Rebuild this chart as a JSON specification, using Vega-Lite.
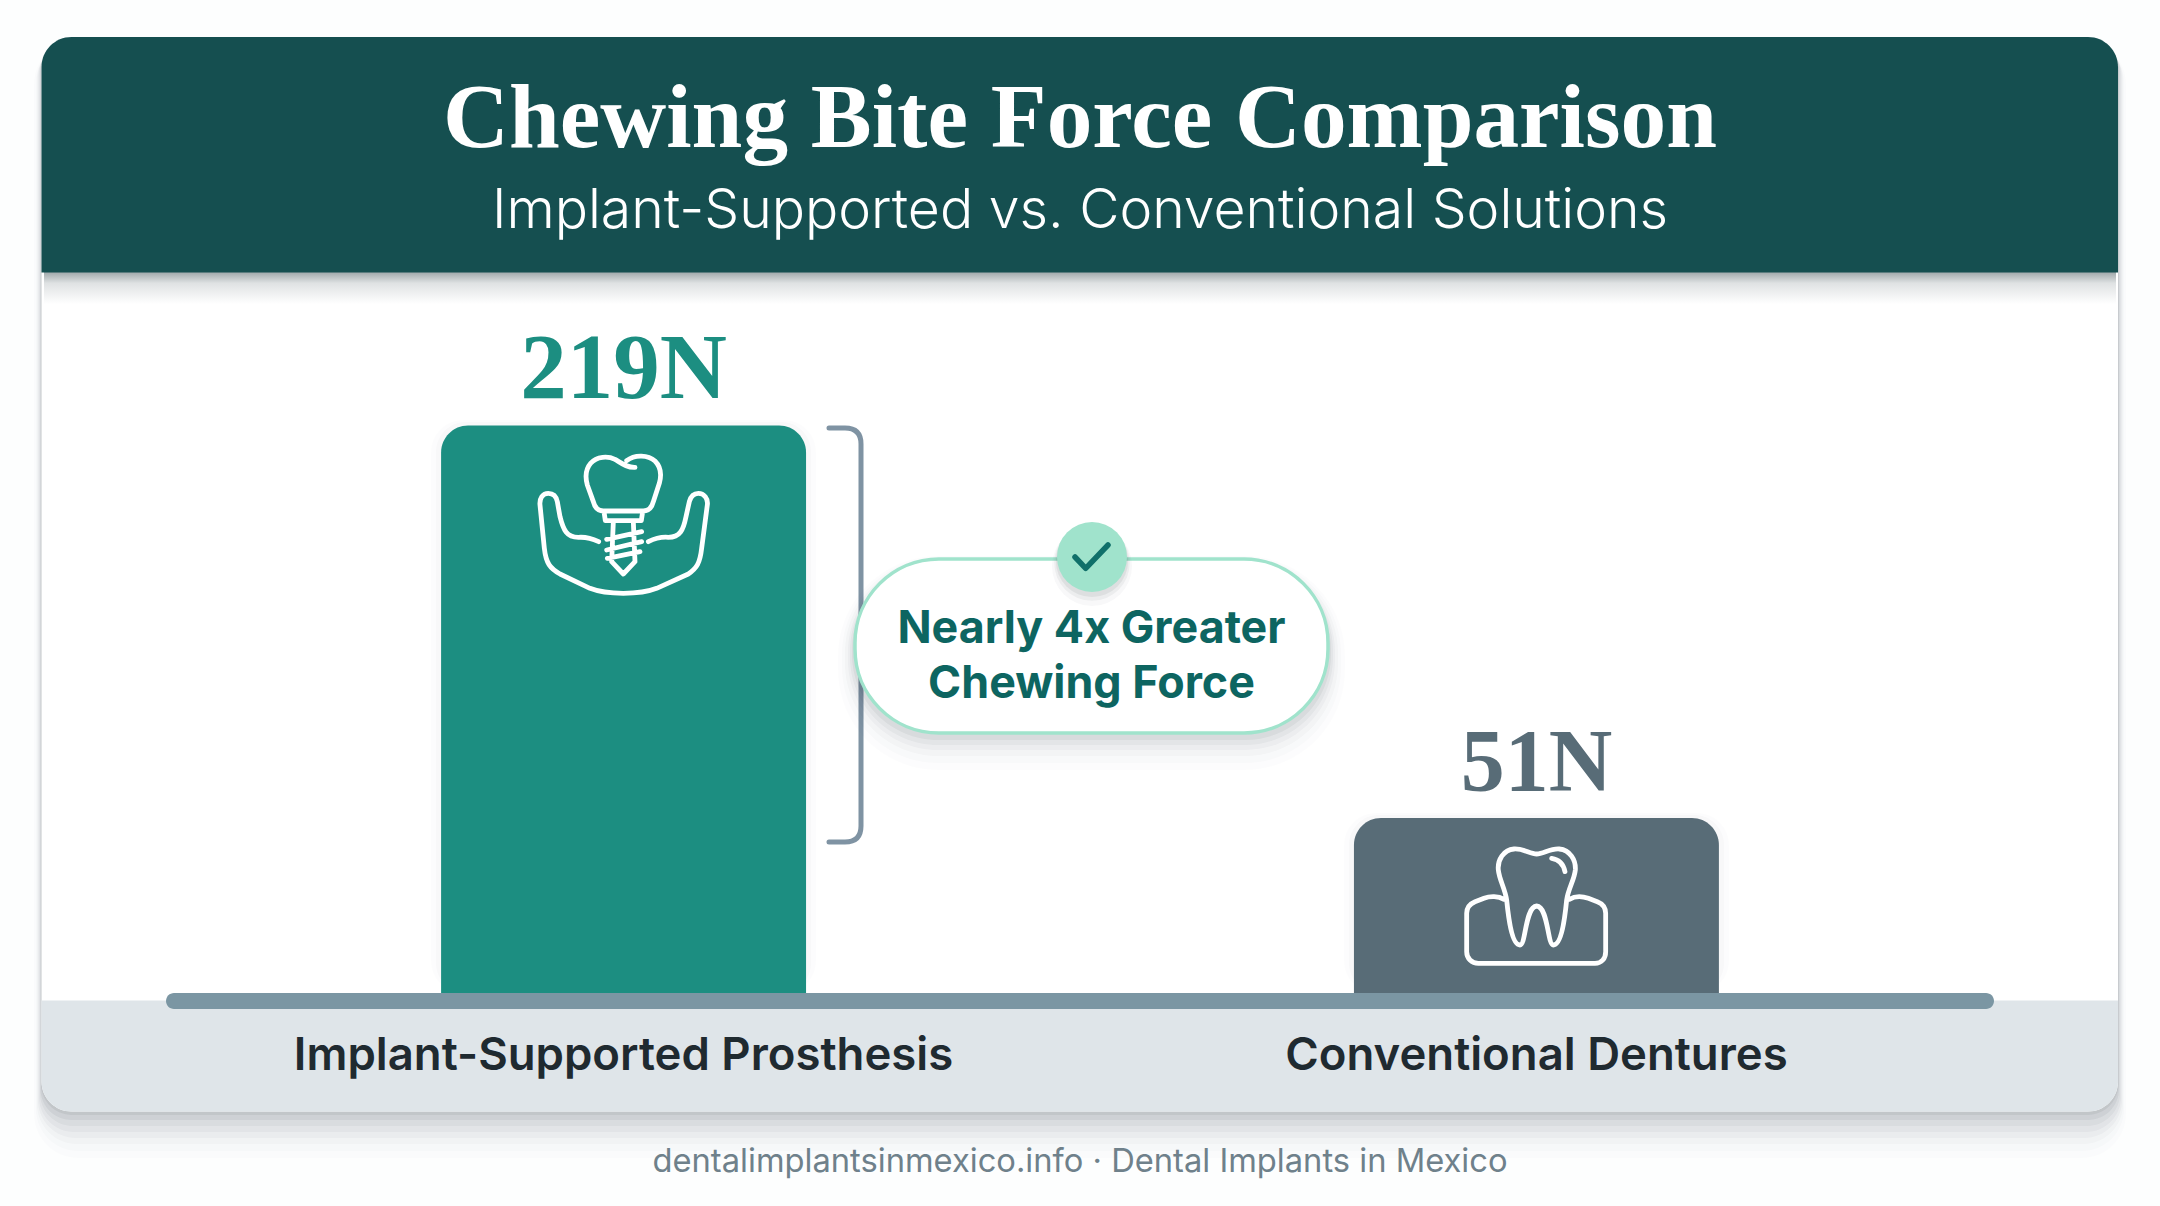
{
"$schema":"https://vega.github.io/schema/vega-lite/v6.json",
"width":2160,"height":1206,
"autosize":{"type":"fit","contains":"padding"},
"padding":0,
"background":"#fdfefe",
"config":{"view":{"stroke":null}},
"data":{"values":[
{"category":"Implant-Supported Prosthesis","force":219,"label":"219N"},
{"category":"Conventional Dentures","force":51,"label":"51N"}
]},
"resolve":{"scale":{"x":"independent","y":"independent","color":"independent"}},
"layer":[
{"data":{"values":[{}]},
"layer":[
{"mark":{"type":"rect","fill":"#1a2a30","opacity":0.012,"cornerRadius":44},"encoding":{"x":{"datum":34,"type":"quantitative","axis":null,"scale":{"domain":[0,2160],"nice":false,"zero":false}},"x2":{"datum":2126},"y":{"datum":40,"type":"quantitative","axis":null,"scale":{"domain":[1206,0],"nice":false,"zero":false}},"y2":{"datum":1158}}},
{"mark":{"type":"rect","fill":"#1a2a30","opacity":0.016,"cornerRadius":42},"encoding":{"x":{"datum":36},"x2":{"datum":2124},"y":{"datum":40},"y2":{"datum":1151}}},
{"mark":{"type":"rect","fill":"#1a2a30","opacity":0.022,"cornerRadius":40},"encoding":{"x":{"datum":37},"x2":{"datum":2123},"y":{"datum":40},"y2":{"datum":1144}}},
{"mark":{"type":"rect","fill":"#1a2a30","opacity":0.03,"cornerRadius":38},"encoding":{"x":{"datum":38},"x2":{"datum":2122},"y":{"datum":40},"y2":{"datum":1138}}},
{"mark":{"type":"rect","fill":"#1a2a30","opacity":0.035,"cornerRadius":35},"encoding":{"x":{"datum":39},"x2":{"datum":2121},"y":{"datum":40},"y2":{"datum":1132}}},
{"mark":{"type":"rect","fill":"#1a2a30","opacity":0.045,"cornerRadius":33},"encoding":{"x":{"datum":40},"x2":{"datum":2120},"y":{"datum":40},"y2":{"datum":1126}}},
{"mark":{"type":"rect","fill":"#1a2a30","opacity":0.055,"cornerRadius":31},"encoding":{"x":{"datum":40.5},"x2":{"datum":2119},"y":{"datum":40},"y2":{"datum":1120}}},
{"mark":{"type":"rect","fill":"#1a2a30","opacity":0.065,"cornerRadius":31},"encoding":{"x":{"datum":41},"x2":{"datum":2118.5},"y":{"datum":40},"y2":{"datum":1115}}},
{"mark":{"type":"rect","fill":"#ffffff","cornerRadius":30},"encoding":{"x":{"datum":41.5},"x2":{"datum":2118},"y":{"datum":37},"y2":{"datum":1111.5}}},
{"mark":{"type":"rect","fill":"#dfe5e9","cornerRadiusBottomLeft":30,"cornerRadiusBottomRight":30},"encoding":{"x":{"datum":41.5},"x2":{"datum":2118},"y":{"datum":1000.5},"y2":{"datum":1111.5}}},
{"mark":{"type":"rect","fill":{"gradient":"linear","x1":0,"y1":0,"x2":0,"y2":1,"stops":[{"offset":0,"color":"#9fa8aa"},{"offset":0.35,"color":"#dfe2e3"},{"offset":1,"color":"#ffffff"}]}},"encoding":{"x":{"datum":44},"x2":{"datum":2116},"y":{"datum":272},"y2":{"datum":304}}},
{"mark":{"type":"rect","fill":"#154f50","cornerRadiusTopLeft":30,"cornerRadiusTopRight":30},"encoding":{"x":{"datum":41.5},"x2":{"datum":2118},"y":{"datum":37},"y2":{"datum":272.5}}},
{"mark":{"type":"rect","fill":"#1a2a30","opacity":0.012,"cornerRadius":32},"encoding":{"x":{"datum":431},"x2":{"datum":816},"y":{"datum":420},"y2":{"datum":993}}},
{"mark":{"type":"rect","fill":"#1a2a30","opacity":0.018,"cornerRadius":30},"encoding":{"x":{"datum":436},"x2":{"datum":811},"y":{"datum":422},"y2":{"datum":993}}},
{"mark":{"type":"rect","fill":"#1a2a30","opacity":0.012,"cornerRadius":32},"encoding":{"x":{"datum":1344},"x2":{"datum":1729},"y":{"datum":813},"y2":{"datum":993}}},
{"mark":{"type":"rect","fill":"#1a2a30","opacity":0.018,"cornerRadius":30},"encoding":{"x":{"datum":1349},"x2":{"datum":1724},"y":{"datum":815},"y2":{"datum":993}}}
]},
{"layer":[
{"mark":{"type":"bar","cornerRadiusTopLeft":27,"cornerRadiusTopRight":27},
"encoding":{
"x":{"field":"category","type":"nominal","sort":null,"axis":null,"scale":{"paddingInner":0.6002,"paddingOuter":0.4832}},
"y":{"field":"force","type":"quantitative","axis":null,"scale":{"domain":[-115.1,401.2],"nice":false,"zero":false}},
"y2":{"datum":-24},
"color":{"field":"category","type":"nominal","legend":null,"sort":null,"scale":{"domain":["Implant-Supported Prosthesis","Conventional Dentures"],"range":["#1c8e81","#586c77"]}}
}},
{"mark":{"type":"text","font":"Liberation Serif","fontWeight":700,"align":"center","baseline":"alphabetic","dy":-28},
"encoding":{
"x":{"field":"category","type":"nominal","sort":null},
"y":{"field":"force","type":"quantitative"},
"text":{"field":"label"},
"size":{"condition":{"test":"datum.force > 100","value":93},"value":88},
"color":{"field":"category","type":"nominal","legend":null,"sort":null}
}},
{"mark":{"type":"text","font":"Inter","fontWeight":600,"fontSize":45.5,"align":"center","baseline":"alphabetic","fill":"#1f2a30"},
"encoding":{
"x":{"field":"category","type":"nominal","sort":null},
"y":{"datum":-56.9,"type":"quantitative"},
"text":{"field":"category"}
}}
]},
{"data":{"values":[{}]},
"layer":[
{"mark":{"type":"rect","fill":"#7b96a3","cornerRadius":8},"encoding":{"x":{"datum":166,"type":"quantitative","axis":null,"scale":{"domain":[0,2160],"nice":false,"zero":false}},"x2":{"datum":1994},"y":{"datum":993,"type":"quantitative","axis":null,"scale":{"domain":[1206,0],"nice":false,"zero":false}},"y2":{"datum":1009}}},
{"mark":{"type":"point","shape":"M405 112 C380 113 365 100 345 88 C325 78 290 78 272 100 C255 120 255 140 262 165 L280 215 C285 235 295 243 310 243 L430 243 C445 243 455 235 460 215 L478 160 C485 135 482 110 465 93 C445 75 405 72 380 92 M312 245 L316 272 L424 272 L428 245 M340 275 L335 395 L370 432 L405 395 L400 275 M320 328 L425 305 M320 360 L425 335 M322 385 L420 365 M296 335 C275 325 260 320 235 322 C200 322 190 300 180 260 L172 215 C168 195 155 190 145 190 C128 190 118 205 120 225 L133 355 C138 400 150 415 180 432 L270 475 C320 495 420 495 470 475 L565 432 C590 415 600 400 605 355 L622 225 C625 205 612 190 595 190 C580 190 572 200 568 215 L558 260 C550 300 540 322 505 322 C480 320 465 325 445 335","size":0.4444,"filled":false,"stroke":"#ffffff","strokeWidth":4.8,"strokeCap":"round","strokeJoin":"round","opacity":1},"encoding":{"x":{"datum":500},"y":{"datum":430}}},
{"mark":{"type":"point","shape":"M290 72 C270 72 250 55 222 57 C190 60 172 90 175 120 C178 150 195 175 200 210 C205 260 215 345 240 345 C258 345 255 230 290 228 C325 230 322 345 340 345 C365 345 375 260 380 210 C385 175 403 150 406 120 C408 90 390 60 358 57 C330 55 310 72 290 72 Z M335 85 C355 88 370 100 375 125 M192 208 C175 198 150 198 132 205 L105 215 C88 222 80 235 80 250 L80 365 C80 385 95 400 115 400 L465 400 C485 400 497 385 497 365 L497 250 C497 235 490 222 472 215 L445 205 C425 198 405 198 388 208","size":0.4444,"filled":false,"stroke":"#ffffff","strokeWidth":4.8,"strokeCap":"round","strokeJoin":"round","opacity":1},"encoding":{"x":{"datum":1440},"y":{"datum":830}}},
{"mark":{"type":"point","shape":"M0 0 L16 0 Q32 0 32 16 L32 398 Q32 414 16 414 L0 414","size":4,"filled":false,"stroke":"#7f93a3","strokeWidth":5,"strokeCap":"round","strokeJoin":"round","opacity":1},"encoding":{"x":{"datum":829},"y":{"datum":428}}},
{"mark":{"type":"rect","fill":"#1a2a30","opacity":0.012,"cornerRadius":100},"encoding":{"x":{"datum":838},"x2":{"datum":1345},"y":{"datum":556},"y2":{"datum":770}}},
{"mark":{"type":"rect","fill":"#1a2a30","opacity":0.016,"cornerRadius":96},"encoding":{"x":{"datum":842},"x2":{"datum":1341},"y":{"datum":558},"y2":{"datum":763}}},
{"mark":{"type":"rect","fill":"#1a2a30","opacity":0.022,"cornerRadius":93},"encoding":{"x":{"datum":845},"x2":{"datum":1338},"y":{"datum":560},"y2":{"datum":756}}},
{"mark":{"type":"rect","fill":"#1a2a30","opacity":0.03,"cornerRadius":90},"encoding":{"x":{"datum":848},"x2":{"datum":1335},"y":{"datum":562},"y2":{"datum":750}}},
{"mark":{"type":"rect","fill":"#1a2a30","opacity":0.04,"cornerRadius":88},"encoding":{"x":{"datum":850},"x2":{"datum":1333},"y":{"datum":563},"y2":{"datum":745}}},
{"mark":{"type":"rect","fill":"#1a2a30","opacity":0.05,"cornerRadius":86},"encoding":{"x":{"datum":852},"x2":{"datum":1331},"y":{"datum":564},"y2":{"datum":740}}},
{"mark":{"type":"rect","fill":"#ffffff","stroke":"#a0e3cc","strokeWidth":3.5,"cornerRadius":84},"encoding":{"x":{"datum":855},"x2":{"datum":1328},"y":{"datum":559},"y2":{"datum":733}}},
{"mark":{"type":"circle","fill":"#1a2a30","opacity":0.03,"size":6400},"encoding":{"x":{"datum":1092},"y":{"datum":566}}},
{"mark":{"type":"circle","fill":"#1a2a30","opacity":0.05,"size":5700},"encoding":{"x":{"datum":1092},"y":{"datum":563}}},
{"mark":{"type":"circle","fill":"#1a2a30","opacity":0.07,"size":5200},"encoding":{"x":{"datum":1092},"y":{"datum":561}}},
{"mark":{"type":"circle","fill":"#a0e3cc","opacity":1,"size":4900},"encoding":{"x":{"datum":1092},"y":{"datum":557}}},
{"mark":{"type":"point","shape":"M0 0 L10.7 11.3 L33 -12","size":4,"filled":false,"stroke":"#10706a","strokeWidth":5.5,"strokeCap":"round","strokeJoin":"round","opacity":1},"encoding":{"x":{"datum":1075},"y":{"datum":557}}},
{"mark":{"type":"text","text":"Nearly 4x Greater","font":"Inter","fontWeight":700,"fontSize":44.8,"align":"center","baseline":"alphabetic","fill":"#0d6561"},"encoding":{"x":{"datum":1091.5},"y":{"datum":643}}},
{"mark":{"type":"text","text":"Chewing Force","font":"Inter","fontWeight":700,"fontSize":44.8,"align":"center","baseline":"alphabetic","fill":"#0d6561"},"encoding":{"x":{"datum":1091.5},"y":{"datum":698}}},
{"mark":{"type":"text","text":"Chewing Bite Force Comparison","font":"Liberation Serif","fontWeight":700,"fontSize":91.3,"align":"center","baseline":"alphabetic","fill":"#ffffff"},"encoding":{"x":{"datum":1080},"y":{"datum":147}}},
{"mark":{"type":"text","text":"Implant-Supported vs. Conventional Solutions","font":"Inter","fontWeight":300,"fontSize":55.3,"align":"center","baseline":"alphabetic","fill":"#ffffff"},"encoding":{"x":{"datum":1080},"y":{"datum":228}}},
{"mark":{"type":"text","text":"dentalimplantsinmexico.info · Dental Implants in Mexico","font":"Inter","fontWeight":400,"fontSize":32.7,"align":"center","baseline":"alphabetic","fill":"#6f818b"},"encoding":{"x":{"datum":1080},"y":{"datum":1172}}}
]}
]
}
